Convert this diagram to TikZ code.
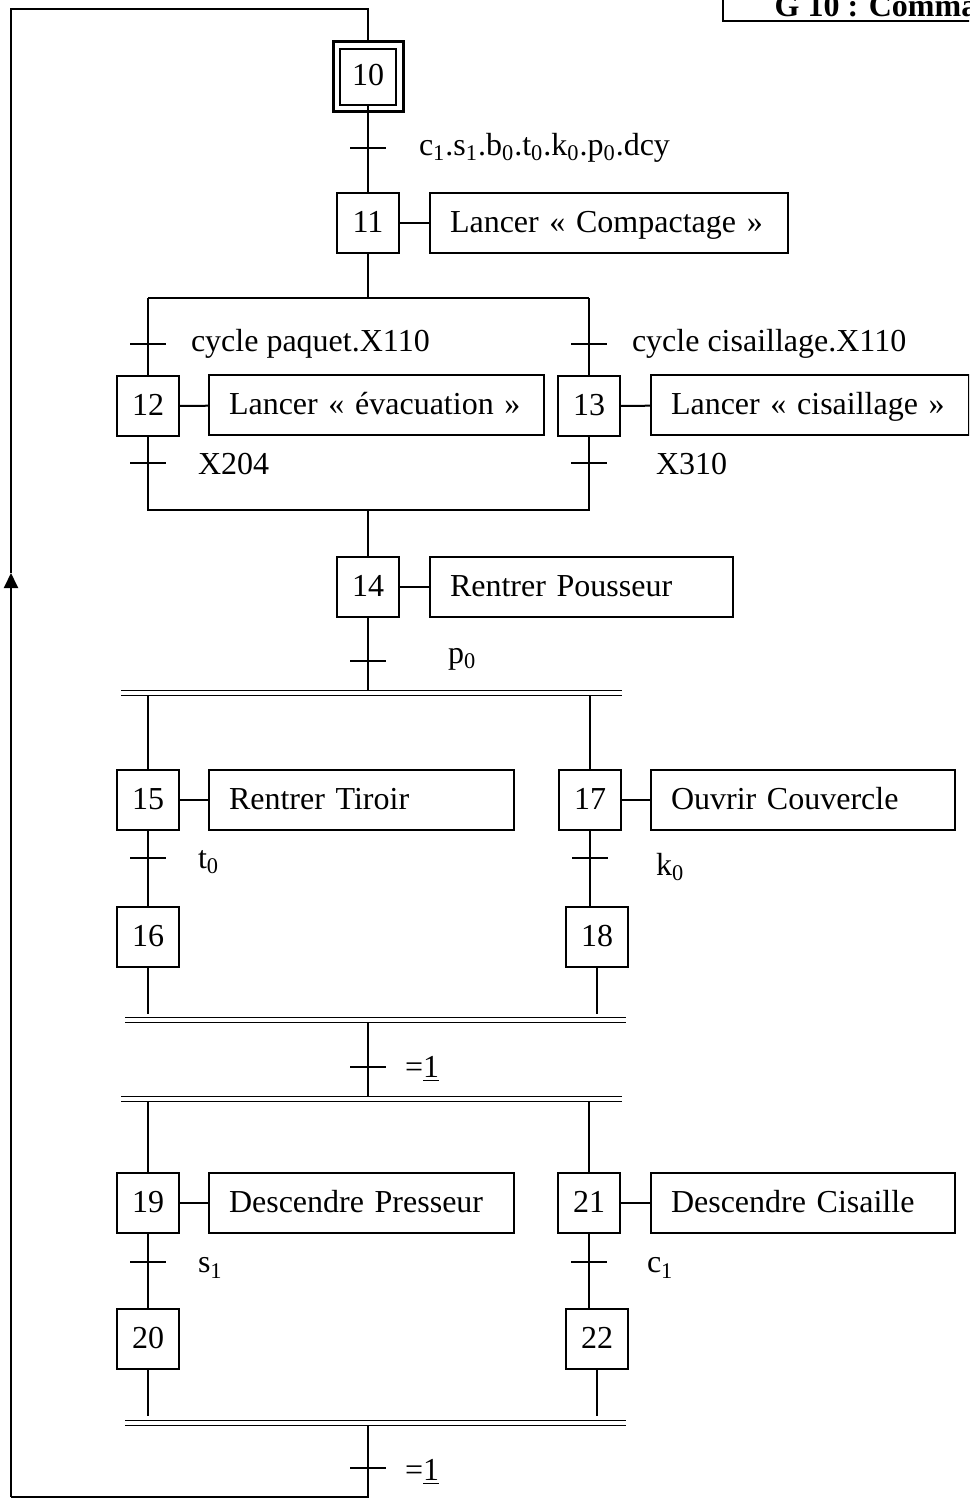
\documentclass[tikz,border=0pt]{standalone}
\usepackage{fontspec}
\setmainfont{Liberation Serif}
\usetikzlibrary{arrows.meta}

\begin{document}
\begin{tikzpicture}[x=0.5pt, y=-0.5pt, line width=1pt,
  font=\fontsize{16}{19}\selectfont,
  etape/.style={draw, minimum width=31pt, minimum height=30pt, inner sep=0pt, text height=11.5pt, text depth=2.5pt},
  action/.style={draw, anchor=west, minimum height=30pt, inner xsep=10pt, align=left, text height=12pt, text depth=3pt},
  trans/.style={minimum width=17pt, minimum height=0pt, inner sep=0pt},
  recept/.style={anchor=west, inner sep=0pt},
  para/.style={double, double distance=1.6pt, line width=0.9pt}]
\useasboundingbox (0,0) rectangle (969,1504);
\clip (0,0) rectangle (969,1504);
% titre
\node[anchor=base west, font=\fontsize{16}{19}\selectfont\bfseries] (titre) at (767,17) {G 10 : Comma};
\draw (723,-10) rectangle (990,21);
% etapes
\node[etape, minimum size=28pt] (s10) at (368,77) {10};
\draw[line width=1.5pt] ([shift={(-3pt,3pt)}]s10.north west) rectangle ([shift={(3pt,-3pt)}]s10.south east);
\node[etape] (s11) at (368,223) {11};
\node[action, text width=159pt] (a11) at (429,223) {Lancer « Compactage »};
\node[etape] (s12) at (148,406) {12};
\node[action, text width=147.5pt] (a12) at (208,405) {Lancer « évacuation »};
\node[etape] (s13) at (589,406) {13};
\node[action, text width=139pt] (a13) at (650,405) {Lancer « cisaillage »};
\node[etape] (s14) at (368,587) {14};
\node[action, text width=131.5pt] (a14) at (429,587) {Rentrer Pousseur};
\node[etape] (s15) at (148,800) {15};
\node[action, text width=132.5pt] (a15) at (208,800) {Rentrer Tiroir};
\node[etape] (s17) at (590,800) {17};
\node[action, text width=132pt] (a17) at (650,800) {Ouvrir Couvercle};
\node[etape] (s16) at (148,937) {16};
\node[etape] (s18) at (597,937) {18};
\node[etape] (s19) at (148,1203) {19};
\node[action, text width=132.5pt] (a19) at (208,1203) {Descendre Presseur};
\node[etape] (s21) at (589,1203) {21};
\node[action, text width=132pt] (a21) at (650,1203) {Descendre Cisaille};
\node[etape] (s20) at (148,1339) {20};
\node[etape] (s22) at (597,1339) {22};
% transitions
\node[trans] (t1) at (368,148) {};
\node[trans] (t2) at (148,344) {};
\node[trans] (t3) at (589,344) {};
\node[trans] (t4) at (148,463) {};
\node[trans] (t5) at (589,463) {};
\node[trans] (t6) at (368,661) {};
\node[trans] (t7) at (148,858) {};
\node[trans] (t8) at (590,858) {};
\node[trans] (t9) at (368,1067) {};
\node[trans] (t10) at (148,1262) {};
\node[trans] (t11) at (589,1262) {};
\node[trans] (t12) at (368,1468) {};
\foreach \t in {t1,t2,t3,t4,t5,t6,t7,t8,t9,t10,t11,t12}
  \draw (\t.west) -- (\t.east);
% receptivites
\node[recept] (r1) at (418,148) {c\textsubscript{1}.s\textsubscript{1}.b\textsubscript{0}.t\textsubscript{0}.k\textsubscript{0}.p\textsubscript{0}.dcy};
\node[recept] (r2) at (190,344) {cycle paquet.X110};
\node[recept] (r3) at (631,344) {cycle cisaillage.X110};
\node[recept] (r4) at (197,464) {X204};
\node[recept] (r5) at (655,464) {X310};
\node[recept] (r6) at (447,659) {p\textsubscript{0}};
\node[recept] (r7) at (197,862) {t\textsubscript{0}};
\node[recept] (r8) at (655,867) {k\textsubscript{0}};
\node[recept] (r9) at (404,1069) {=\underline{1}};
\node[recept] (r10) at (197,1268) {s\textsubscript{1}};
\node[recept] (r11) at (646,1268) {c\textsubscript{1}};
\node[recept] (r12) at (404,1472) {=\underline{1}};
% points de liaison
\coordinate (o0) at (368,298);
\coordinate (o1) at (148,298);
\coordinate (o2) at (589,298);
\coordinate (o3) at (148,510);
\coordinate (o4) at (589,510);
\coordinate (o5) at (368,510);
\coordinate (e0) at (368,691);
\coordinate (e1) at (148,696);
\coordinate (e2) at (590,696);
\coordinate (k18) at (590,907);
\coordinate (e3) at (148,1014);
\coordinate (e4) at (597,1014);
\coordinate (e5) at (368,1022);
\coordinate (e6) at (368,1097);
\coordinate (e7) at (148,1102);
\coordinate (e8) at (589,1102);
\coordinate (k22) at (589,1309);
\coordinate (e9) at (148,1416);
\coordinate (e10) at (597,1416);
\coordinate (e11) at (368,1426);
\coordinate (b1) at (368,1497);
\coordinate (b2) at (11,1497);
\coordinate (b3) at (11,573);
\coordinate (b4) at (11,9);
\coordinate (b5) at (368,9);
% liaisons
\draw (s10) -- (s11);
\draw (s11) -- (a11);
\draw (s11) -- (o0);
\draw (o1) -- (o2);
\draw (o1) -- (s12);
\draw (o2) -- (s13);
\draw (s12) -- (a12);
\draw (s13) -- (a13);
\draw (s12) -- (o3) -- (o4) -- (s13);
\draw (o5) -- (s14);
\draw (s14) -- (a14);
\draw (s14) -- (e0);
\draw[para] (121,693) -- (622,693);
\draw (e1) -- (s15);
\draw (e2) -- (s17);
\draw (s15) -- (a15);
\draw (s17) -- (a17);
\draw (s15) -- (s16);
\draw (s17) -- (k18);
\draw (s16) -- (e3);
\draw (s18) -- (e4);
\draw[para] (125,1020) -- (626,1020);
\draw (e5) -- (e6);
\draw[para] (121,1099) -- (622,1099);
\draw (e7) -- (s19);
\draw (e8) -- (s21);
\draw (s19) -- (a19);
\draw (s21) -- (a21);
\draw (s19) -- (s20);
\draw (s21) -- (k22);
\draw (s20) -- (e9);
\draw (s22) -- (e10);
\draw[para] (125,1423) -- (626,1423);
\draw (e11) -- (b1) -- (b2);
\draw[-{Triangle[length=7.5pt,width=7pt]}] (b2) -- (b3);
\draw (b3) -- (b4) -- (b5) -- ([yshift=3pt]s10.north);
\end{tikzpicture}
\end{document}
